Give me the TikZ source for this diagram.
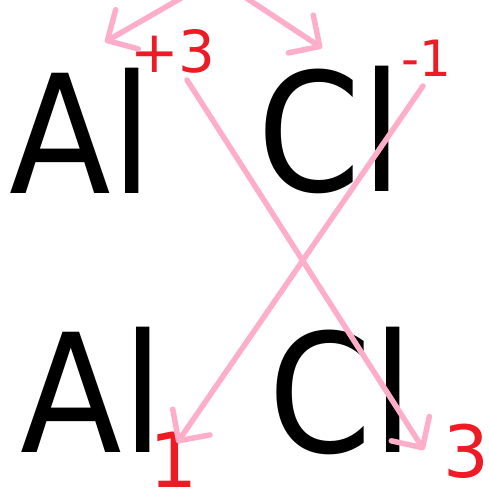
\documentclass[tikz,border=0pt]{standalone}
\usepackage{fontspec}
\setmainfont{DejaVu Sans}
\usetikzlibrary{arrows.meta}
\definecolor{chargered}{RGB}{237,28,36}
\definecolor{swappink}{RGB}{255,174,201}

\begin{document}
\begin{tikzpicture}[
  x=1pt, y=-1pt,
  elem/.style={inner sep=0pt, anchor=base, font=\fontsize{165}{165}\selectfont, xscale=0.9},
  chg/.style={inner sep=0pt, anchor=base, text=chargered},
  swap/.style={draw=swappink, line width=5.5pt, line cap=round,
               -{Straight Barb[angle=90:32pt, round]}}
]
\useasboundingbox (0,0) rectangle (489,495);
\clip (0,0) rectangle (489,495);

% top row: element and charge
\node[elem] (alTop) at (81,193) {Al};
\node[elem] (clTop) at (330,191) {Cl};
\node[chg, font=\fontsize{58}{58}\selectfont] (plusThree) at (173,73) {+3};
\node[chg, font=\fontsize{50}{50}\selectfont] (minusOne) at (426,77) {-1};

% bottom row: formula with subscripts
\node[elem] (alBot) at (92,452) {Al};
\node[elem] (clBot) at (341,452) {Cl};
\node[chg, font=\fontsize{76}{76}\selectfont] (subOne) at (174,487) {1};
\node[chg, font=\fontsize{72}{72}\selectfont] (subThree) at (466,477) {3};

% ends of the pink arrows
\coordinate (topFork) at (216,-22);
\coordinate (forkLeft) at (105,42);
\coordinate (forkRight) at (322,48);
\coordinate (threeFrom) at (187,80);
\coordinate (threeTo) at (424,450);
\coordinate (oneFrom) at (423,86);
\coordinate (oneTo) at (177,443);

\draw[swap] (topFork) -- (forkLeft);
\draw[swap] (topFork) -- (forkRight);
\draw[swap] (threeFrom) -- (threeTo);
\draw[swap] (oneFrom) -- (oneTo);
\end{tikzpicture}
\end{document}
